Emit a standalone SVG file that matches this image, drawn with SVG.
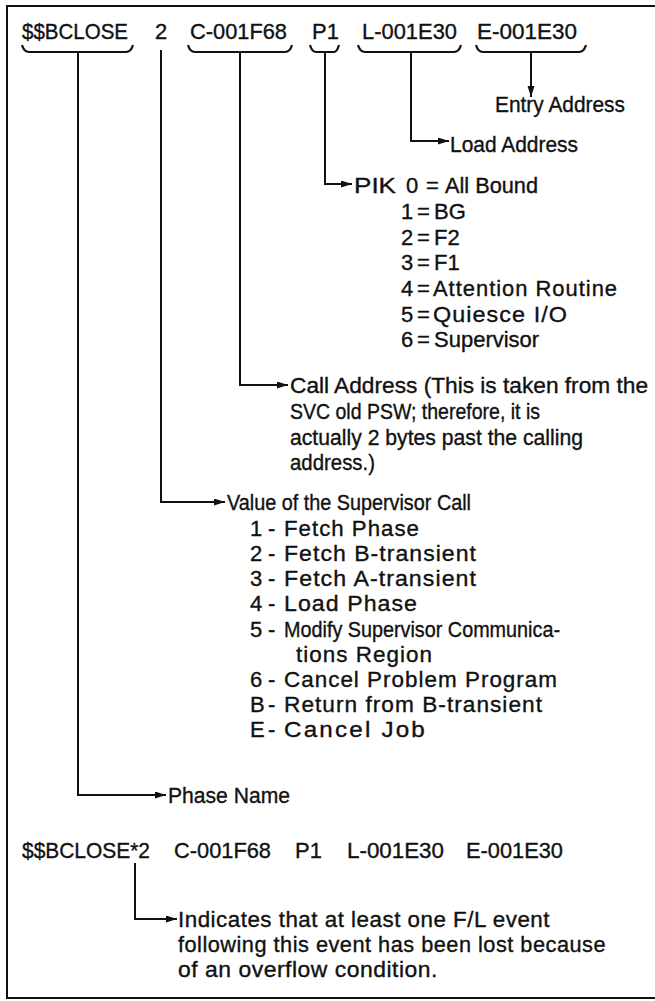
<svg xmlns="http://www.w3.org/2000/svg" width="655" height="1001" viewBox="0 0 655 1001">
  <style>
    .t { font-family: "Liberation Sans", Arial, sans-serif; font-size: 22px; fill: #111; stroke: #111; stroke-width: 0.35px; }
    .w1 { letter-spacing: 1px; }
    .w2 { letter-spacing: 2px; }
    .wh { letter-spacing: 0.5px; }
    .ln { fill: none; stroke: #111; stroke-width: 2; }
    .br { fill: none; stroke: #111; stroke-width: 2.2; stroke-linejoin: round; }
  </style>
  <defs>
    <marker id="ah" markerUnits="userSpaceOnUse" markerWidth="12" markerHeight="8" refX="11" refY="3.5" orient="auto">
      <path d="M0,0 L11,3.5 L0,7 z" fill="#111"/>
    </marker>
  </defs>
  <rect width="655" height="1001" fill="#fff"/>

  <!-- outer frame (open on the right) -->
  <path class="ln" d="M656 6 H7 V998 H656"/>

  <!-- entry record fields -->
  <g id="field-phase">
    <text class="t" x="22" y="39" textLength="106" lengthAdjust="spacingAndGlyphs">$$BCLOSE</text>
    <path class="br" d="M22 45 Q24 52 29 52 H126 Q131 52 133 45"/>
  </g>
  <g id="field-svc">
    <text class="t" x="155" y="39">2</text>
  </g>
  <g id="field-call">
    <text class="t" x="190" y="39" textLength="97" lengthAdjust="spacingAndGlyphs">C-001F68</text>
    <path class="br" d="M188 45 Q190 52 195 52 H285 Q290 52 292 45"/>
  </g>
  <g id="field-pik">
    <text class="t" x="312" y="39">P1</text>
    <path class="br" d="M310 45 Q312 52 316 52 H334 Q337 52 339 45"/>
  </g>
  <g id="field-load">
    <text class="t" x="362" y="39" textLength="95" lengthAdjust="spacingAndGlyphs">L-001E30</text>
    <path class="br" d="M358 45 Q360 52 365 52 H454 Q459 52 461 45"/>
  </g>
  <g id="field-entry">
    <text class="t" x="477" y="39" textLength="100" lengthAdjust="spacingAndGlyphs">E-001E30</text>
    <path class="br" d="M476 45 Q478 52 483 52 H579 Q584 52 586 45"/>
  </g>

  <!-- explanations -->
  <g id="entry-address">
    <text class="t" x="495" y="112" textLength="130" lengthAdjust="spacingAndGlyphs">Entry Address</text>
  </g>
  <g id="load-address">
    <text class="t" x="450" y="152" textLength="128" lengthAdjust="spacingAndGlyphs">Load Address</text>
  </g>
  <g id="pik-values">
    <text class="t" x="354" y="193" textLength="42" lengthAdjust="spacingAndGlyphs">PIK</text>
    <text class="t" x="406" y="193">0</text>
    <text class="t" x="426" y="193">=</text>
    <text class="t" x="445" y="193" textLength="93" lengthAdjust="spacingAndGlyphs">All Bound</text>

    <text class="t" x="401" y="219">1</text>
    <text class="t" x="417" y="219">=</text>
    <text class="t" x="434" y="219">BG</text>

    <text class="t" x="401" y="245">2</text>
    <text class="t" x="417" y="245">=</text>
    <text class="t" x="434" y="245">F2</text>

    <text class="t" x="401" y="270">3</text>
    <text class="t" x="417" y="270">=</text>
    <text class="t" x="434" y="270">F1</text>

    <text class="t" x="401" y="296">4</text>
    <text class="t" x="417" y="296">=</text>
    <text class="t w1" x="433" y="296" textLength="185" lengthAdjust="spacingAndGlyphs">Attention Routine</text>

    <text class="t" x="401" y="322">5</text>
    <text class="t" x="417" y="322">=</text>
    <text class="t w1" x="433" y="322" textLength="135" lengthAdjust="spacingAndGlyphs">Quiesce I/O</text>

    <text class="t" x="401" y="347">6</text>
    <text class="t" x="417" y="347">=</text>
    <text class="t" x="434" y="347">Supervisor</text>
  </g>
  <g id="call-address">
    <text class="t" x="290" y="393" textLength="358" lengthAdjust="spacingAndGlyphs">Call Address (This is taken from the</text>
    <text class="t" x="290" y="419" textLength="250" lengthAdjust="spacingAndGlyphs">SVC old PSW; therefore, it is</text>
    <text class="t" x="290" y="445" textLength="293" lengthAdjust="spacingAndGlyphs">actually 2 bytes past the calling</text>
    <text class="t" x="290" y="470" textLength="85" lengthAdjust="spacingAndGlyphs">address.)</text>
  </g>
  <g id="svc-values">
    <text class="t" x="227" y="510" textLength="244" lengthAdjust="spacingAndGlyphs">Value of the Supervisor Call</text>

    <text class="t" x="250" y="536">1</text>
    <text class="t" x="268" y="536">-</text>
    <text class="t w1" x="284" y="536" textLength="136" lengthAdjust="spacingAndGlyphs">Fetch Phase</text>

    <text class="t" x="250" y="561">2</text>
    <text class="t" x="268" y="561">-</text>
    <text class="t w1" x="284" y="561" textLength="193" lengthAdjust="spacingAndGlyphs">Fetch B-transient</text>

    <text class="t" x="250" y="586">3</text>
    <text class="t" x="268" y="586">-</text>
    <text class="t w1" x="284" y="586" textLength="193" lengthAdjust="spacingAndGlyphs">Fetch A-transient</text>

    <text class="t" x="250" y="611">4</text>
    <text class="t" x="268" y="611">-</text>
    <text class="t w1" x="284" y="611" textLength="134" lengthAdjust="spacingAndGlyphs">Load Phase</text>

    <text class="t" x="250" y="637">5</text>
    <text class="t" x="268" y="637">-</text>
    <text class="t" x="284" y="637" textLength="276" lengthAdjust="spacingAndGlyphs">Modify Supervisor Communica-</text>
    <text class="t w1" x="296" y="662" textLength="137" lengthAdjust="spacingAndGlyphs">tions Region</text>

    <text class="t" x="250" y="687">6</text>
    <text class="t" x="268" y="687">-</text>
    <text class="t w1" x="284" y="687" textLength="274" lengthAdjust="spacingAndGlyphs">Cancel Problem Program</text>

    <text class="t" x="250" y="712">B</text>
    <text class="t" x="268" y="712">-</text>
    <text class="t w1" x="284" y="712" textLength="259" lengthAdjust="spacingAndGlyphs">Return from B-transient</text>

    <text class="t" x="250" y="737">E</text>
    <text class="t" x="268" y="737">-</text>
    <text class="t w2" x="284" y="737" textLength="143" lengthAdjust="spacingAndGlyphs">Cancel Job</text>
  </g>
  <g id="phase-name">
    <text class="t" x="168" y="803" textLength="122" lengthAdjust="spacingAndGlyphs">Phase Name</text>
  </g>

  <!-- overflow form of the record -->
  <g id="overflow-record">
    <text class="t" x="22" y="858" textLength="128" lengthAdjust="spacingAndGlyphs">$$BCLOSE*2</text>
    <text class="t" x="174" y="858" textLength="97" lengthAdjust="spacingAndGlyphs">C-001F68</text>
    <text class="t" x="295" y="858">P1</text>
    <text class="t" x="347" y="858" textLength="97" lengthAdjust="spacingAndGlyphs">L-001E30</text>
    <text class="t" x="466" y="858" textLength="97" lengthAdjust="spacingAndGlyphs">E-001E30</text>
  </g>
  <g id="overflow-note">
    <text class="t wh" x="178" y="927" textLength="372" lengthAdjust="spacingAndGlyphs">Indicates that at least one F/L event</text>
    <text class="t wh" x="178" y="952" textLength="428" lengthAdjust="spacingAndGlyphs">following this event has been lost because</text>
    <text class="t wh" x="178" y="977" textLength="260" lengthAdjust="spacingAndGlyphs">of an overflow condition.</text>
  </g>

  <!-- connectors -->
  <g id="connectors" class="ln">
    <path d="M78 52 V795 H166" marker-end="url(#ah)"/>
    <path d="M161 50 V502 H225" marker-end="url(#ah)"/>
    <path d="M240 52 V385 H288" marker-end="url(#ah)"/>
    <path d="M325 52 V184 H352" marker-end="url(#ah)"/>
    <path d="M411 52 V141 H449" marker-end="url(#ah)"/>
    <path d="M531 52 V97" marker-end="url(#ah)"/>
    <path d="M135 863 V919 H177" marker-end="url(#ah)"/>
  </g>
</svg>
